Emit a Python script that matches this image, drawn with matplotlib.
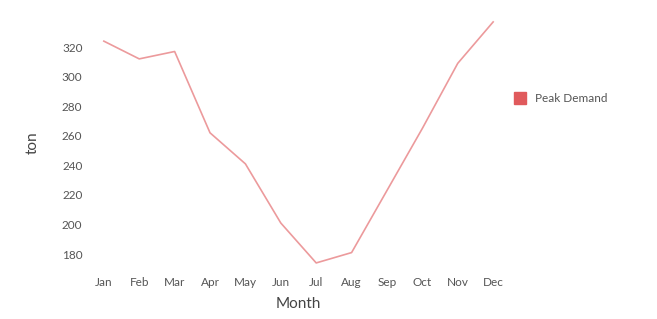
import matplotlib.pyplot as plt

MONTHS = ["Jan", "Feb", "Mar", "Apr", "May", "Jun",
          "Jul", "Aug", "Sep", "Oct", "Nov", "Dec"]
PEAK_DEMAND = [324, 312, 317, 262, 241, 201, 174, 181, 223, 265, 309, 337]
Y_TICKS = [180, 200, 220, 240, 260, 280, 300, 320]

plt.rcParams["font.family"] = ["Lato", "DejaVu Sans"]

fig = plt.figure(figsize=(6.57, 3.19), dpi=100)
ax = fig.add_axes([95 / 657, 54 / 319, 407 / 657, 245 / 319])

x = list(range(len(MONTHS)))
ax.plot(x, PEAK_DEMAND, color="#ec9a9c", linewidth=1.2)

ax.set_xlim(-0.25, 11.25)
ax.set_ylim(172.6, 338.3)
ax.set_xticks(x)
ax.set_xticklabels(MONTHS)
ax.set_yticks(Y_TICKS)

for s in ax.spines.values():
    s.set_visible(False)
ax.tick_params(length=0, labelsize=8.5, labelcolor="#555555", pad=9)

ax.set_xlabel("Month", fontsize=11, color="#444444", labelpad=6)
ax.set_ylabel("ton", fontsize=11, color="#444444", labelpad=16)

# legend proxy
ax.plot([], [], marker="s", linestyle="none", markersize=9,
        color="#e05a5c", label="Peak Demand")
ax.legend(loc="center left", bbox_to_anchor=(0.99, 0.68), frameon=False,
          fontsize=8.5, labelcolor="#555555", handletextpad=0.2)

fig.savefig("out.png", dpi=100)
